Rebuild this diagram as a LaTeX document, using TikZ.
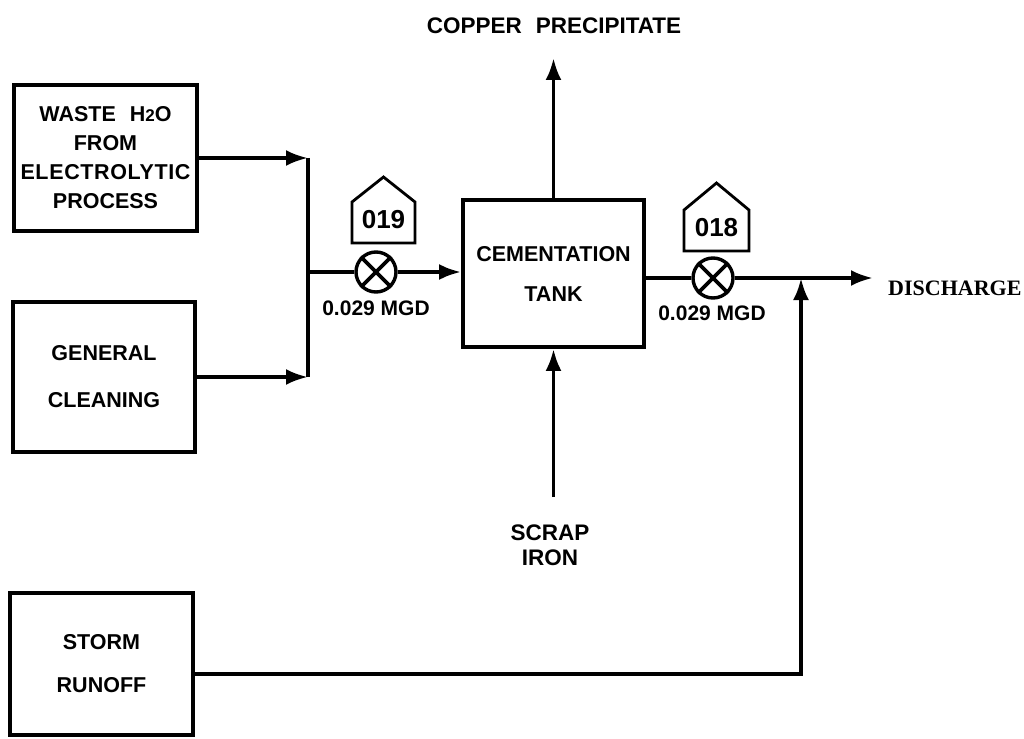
\documentclass[tikz,border=0pt]{standalone}
\usepackage{fontspec}
\setmainfont{Liberation Sans}
\newfontfamily\slabfont{Liberation Serif}
\usetikzlibrary{arrows.meta}
\begin{document}
\begin{tikzpicture}[x=1pt,y=-1pt,
  box/.style={draw, line width=3.8pt, align=center, inner sep=0pt,
    font=\bfseries\fontsize{21.5}{29}\selectfont},
  flow/.style={line width=3.8pt},
  arr/.style={flow, -{Latex[length=22pt,width=16pt]}},
  lbl/.style={font=\bfseries\fontsize{22.5}{25}\selectfont, align=center, inner sep=0pt},
  mgd/.style={font=\bfseries\fontsize{21}{21}\selectfont, inner sep=0pt},
  valve/.style={draw, circle, line width=3.4pt, minimum size=40pt, inner sep=0pt},
  tagtext/.style={font=\bfseries\fontsize{26}{26}\selectfont, inner sep=0pt},
  tag/.style={line width=2.8pt, line join=miter}]
\useasboundingbox (0,0) rectangle (1024,738);

% boxes
\node[box, minimum width=183pt, minimum height=146pt] (waste) at (105.5,158)
  {WASTE\hspace{14pt}H{\fontsize{17}{17}\selectfont 2}O\\FROM\\{\addfontfeatures{LetterSpace=3}ELECTROLYTIC}\\PROCESS};
\node[box, minimum width=182pt, minimum height=150pt] (clean) at (104,377)
  {GENERAL\\[18pt]CLEANING};
\node[box, minimum width=183pt, minimum height=142pt] (storm) at (101.5,664)
  {STORM\\[14pt]RUNOFF};
\node[box, minimum width=181pt, minimum height=147pt] (tank) at (553.5,273.5)
  {\rule{0pt}{14pt}CEMENTATION\\[11pt]TANK};

% junction
\coordinate (jm) at (308,272);
\draw[arr] (waste) -- (waste -| jm);
\draw[arr] (clean) -- (clean -| jm);
\draw[flow] (waste -| jm) -- (clean -| jm);

% valve 019
\node[valve] (v19) at (376,272) {};
\draw[flow] (v19.45) -- (v19.225) (v19.135) -- (v19.315);
\draw[flow] (jm) -- (v19);
\draw[arr] (v19) -- (v19 -| tank.west);
\node[mgd] (m19) at (376,308) {0.029 MGD};
\node[tagtext] (t19) at (383.5,220) {019};
\draw[tag, shift={(t19.center)}] (-31.5,23) -- (-31.5,-18) -- (0,-43) -- (31.5,-18) -- (31.5,23) -- cycle;

% valve 018
\node[valve] (v18) at (713,278) {};
\draw[flow] (v18.45) -- (v18.225) (v18.135) -- (v18.315);
\draw[flow] (v18 -| tank.east) -- (v18);
\node[mgd] (m18) at (712,313) {0.029 MGD};
\node[tagtext] (t18) at (716.5,228) {018};
\draw[tag, shift={(t18.center)}] (-32.5,23) -- (-32.5,-18) -- (0,-45) -- (32.5,-18) -- (32.5,23) -- cycle;

% discharge
\coordinate (dis) at (873,278);
\draw[arr] (v18) -- (dis);
\node[anchor=west, inner sep=0pt, font=\slabfont\bfseries\fontsize{22}{22}\selectfont] (dtext) at (888,288) {DISCHARGE};

% storm runoff line
\coordinate (sc) at (801,674);
\coordinate (sj) at (801,278);
\draw[arr, line join=miter] (storm.east |- sc) -- (sc) -- (sj);

% copper precipitate
\coordinate (cp) at (553.5,58);
\draw[arr] (tank) -- (cp);
\node[lbl] (copper) at (554,26) {COPPER\hspace{14pt}PRECIPITATE};

% scrap iron
\coordinate (sb) at (553.5,497);
\draw[arr] (sb) -- (tank);
\node[lbl] (scrap) at (550,545) {SCRAP\\IRON};
\end{tikzpicture}
\end{document}
